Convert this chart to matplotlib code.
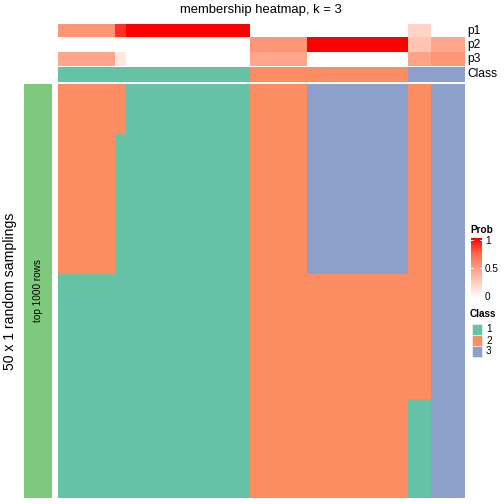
import numpy as np
import matplotlib
matplotlib.use("Agg")
import matplotlib.pyplot as plt
from matplotlib.colors import ListedColormap, LinearSegmentedColormap
from matplotlib.patches import Rectangle

plt.rcParams['font.family'] = ['Liberation Sans', 'DejaVu Sans']

# per-sample membership probabilities (36 samples, left to right)
p1 = [0.54, 0.54, 0.54, 0.54, 0.54, 0.88, 1, 1, 1, 1, 1, 1, 1, 1, 1, 1, 1,
      0, 0, 0, 0, 0, 0, 0, 0, 0, 0, 0, 0, 0, 0, 0.22, 0.22, 0, 0, 0]
p2 = [0, 0, 0, 0, 0, 0, 0, 0, 0, 0, 0, 0, 0, 0, 0, 0, 0,
      0.54, 0.54, 0.54, 0.54, 0.54, 1, 1, 1, 1, 1, 1, 1, 1, 1, 0.30, 0.30, 0.46, 0.46, 0.46]
p3 = [0.46, 0.46, 0.46, 0.46, 0.46, 0.12, 0, 0, 0, 0, 0, 0, 0, 0, 0, 0, 0,
      0.46, 0.46, 0.46, 0.46, 0.46, 0, 0, 0, 0, 0, 0, 0, 0, 0, 0.48, 0.48, 0.54, 0.54, 0.54]
sample_class = [1, 1, 1, 1, 1, 1, 1, 1, 1, 1, 1, 1, 1, 1, 1, 1, 1,
                2, 2, 2, 2, 2, 2, 2, 2, 2, 2, 2, 2, 2, 2, 3, 3, 3, 3, 3]

# membership per random sampling: class in top rows, row where it switches, class below
top_class = [2, 2, 2, 2, 2, 2, 1, 1, 1, 1, 1, 1, 1, 1, 1, 1, 1,
             2, 2, 2, 2, 2, 3, 3, 3, 3, 3, 3, 3, 3, 3, 2, 2, 3, 3, 3]
switch_row = [23, 23, 23, 23, 23, 6, 50, 50, 50, 50, 50, 50, 50, 50, 50, 50, 50,
              50, 50, 50, 50, 50, 23, 23, 23, 23, 23, 23, 23, 23, 23, 38, 38, 50, 50, 50]
bottom_class = [1, 1, 1, 1, 1, 1, 1, 1, 1, 1, 1, 1, 1, 1, 1, 1, 1,
                2, 2, 2, 2, 2, 2, 2, 2, 2, 2, 2, 2, 2, 2, 1, 1, 3, 3, 3]
n_rows = 50

class_colors = ['#66C2A5', '#FC8D62', '#8DA0CB']
class_cmap = ListedColormap(class_colors)
prob_cmap = LinearSegmentedColormap.from_list(
    'prob', [(0, '#FFFFFF'), (0.25, '#FFCFBF'), (0.5, '#FF9E81'), (0.75, '#FF6846'), (1, '#FF0000')])

W = H = 504
fig = plt.figure(figsize=(W / 72, H / 72), dpi=72)


def rect(x0, y0, x1, y1):
    return [x0 / W, 1 - y1 / H, (x1 - x0) / W, (y1 - y0) / H]


def bare(ax):
    ax.set_xticks([])
    ax.set_yticks([])
    for s in ax.spines.values():
        s.set_visible(False)


# body
mat = np.zeros((n_rows, len(top_class)), dtype=int)
for j in range(len(top_class)):
    mat[:switch_row[j], j] = top_class[j] - 1
    mat[switch_row[j]:, j] = bottom_class[j] - 1
ax = fig.add_axes(rect(58, 84, 465, 498))
ax.imshow(mat, cmap=class_cmap, vmin=0, vmax=2, aspect='auto', interpolation='nearest')
bare(ax)

# probability annotation
axp = fig.add_axes(rect(58, 24, 465, 66))
axp.imshow(np.array([p1, p2, p3]), cmap=prob_cmap, vmin=0, vmax=1, aspect='auto', interpolation='nearest')
bare(axp)

# class annotation
axc = fig.add_axes(rect(58, 67, 465, 82))
axc.imshow(np.array([sample_class]) - 1, cmap=class_cmap, vmin=0, vmax=2, aspect='auto', interpolation='nearest')
bare(axc)

# left row-split bar
axl = fig.add_axes(rect(24, 84, 52, 498))
axl.set_facecolor('#7FC97F')
bare(axl)
axl.text(0.5, 0.5, 'top 1000 rows', rotation=90, ha='center', va='center', fontsize=10,
         transform=axl.transAxes)

fig.text(10 / W, 1 - 291 / H, '50 x 1 random samplings', rotation=90, ha='center', va='center', fontsize=14)
fig.text(261 / W, 1 - 10 / H, 'membership heatmap, k = 3', ha='center', va='center', fontsize=13)

for name, yc in [('p1', 31), ('p2', 45), ('p3', 59), ('Class', 74)]:
    fig.text(467 / W, 1 - yc / H, name, ha='left', va='center', fontsize=12)

# legends
fig.text(470 / W, 1 - 230 / H, 'Prob', ha='left', va='center', fontsize=10, fontweight='bold')
axg = fig.add_axes(rect(471, 238, 482, 298))
grad = np.linspace(1, 0, 100).reshape(-1, 1)
axg.imshow(grad, cmap=prob_cmap, vmin=0, vmax=1, aspect='auto', extent=[0, 1, -0.03, 1.03])
for v in [1, 0.5]:
    axg.plot([0, 0.2], [v, v], color='white', lw=1)
    axg.plot([0.8, 1], [v, v], color='white', lw=1)
axg.set_xlim(0, 1)
axg.set_ylim(-0.03, 1.03)
bare(axg)
for lab, yc in [('1', 241), ('0.5', 269), ('0', 297)]:
    fig.text(485 / W, 1 - yc / H, lab, ha='left', va='center', fontsize=10)

fig.text(470 / W, 1 - 314 / H, 'Class', ha='left', va='center', fontsize=10, fontweight='bold')
for i, col in enumerate(class_colors):
    y0 = 324 + i * 11
    fig.patches.append(Rectangle((472 / W, 1 - (y0 + 11) / H), 10 / W, 11 / H, facecolor=col,
                                 edgecolor='white', lw=0.5, transform=fig.transFigure))
    fig.text(486 / W, 1 - (y0 + 5.5) / H, str(i + 1), ha='left', va='center', fontsize=10)

fig.savefig('out.png', dpi=72)
